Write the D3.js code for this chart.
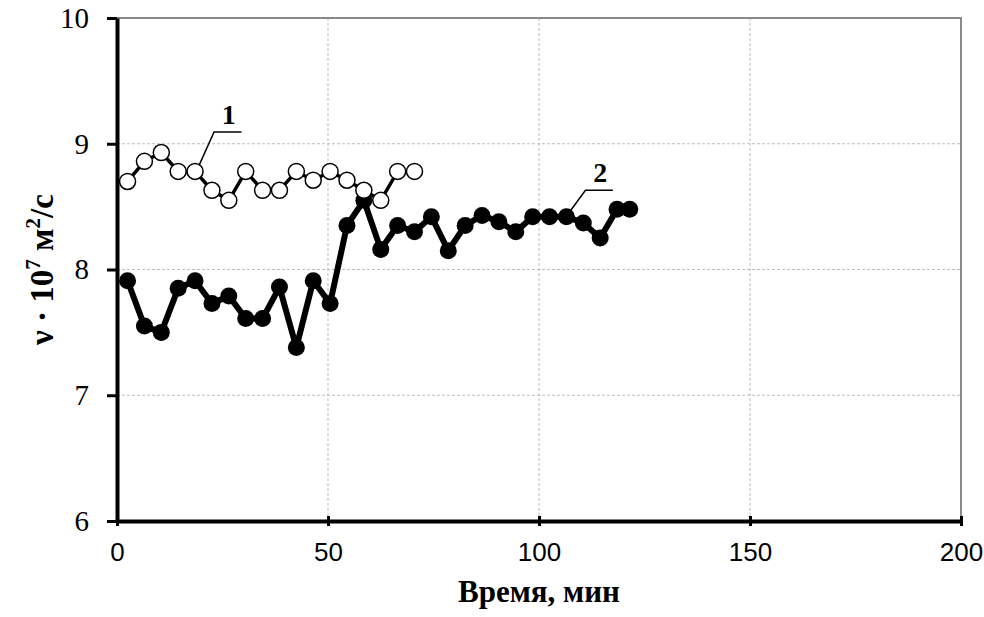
<!DOCTYPE html>
<html>
<head>
<meta charset="utf-8">
<script src="https://cdn.jsdelivr.net/npm/d3@7"></script>
<style>
  html, body { margin: 0; padding: 0; background: #fff; }
  svg { display: block; }
</style>
</head>
<body>
<svg id="chart" width="984" height="617"></svg>
<script>
// time, min — readings every 4 min starting at 2.5
const series1Time = [2.5, 6.5, 10.5, 14.5, 18.5, 22.5, 26.5, 30.5, 34.5, 38.5, 42.5, 46.5, 50.5, 54.5, 58.5, 62.5, 66.5, 70.5];
const series1Nu = [8.70, 8.86, 8.93, 8.78, 8.78, 8.63, 8.55, 8.78, 8.63, 8.63, 8.78, 8.71, 8.78, 8.71, 8.63, 8.55, 8.78, 8.78];

const series2Time = [2.5, 6.5, 10.5, 14.5, 18.5, 22.5, 26.5, 30.5, 34.5, 38.5, 42.5, 46.5, 50.5, 54.5, 58.5, 62.5,
  66.5, 70.5, 74.5, 78.5, 82.5, 86.5, 90.5, 94.5, 98.5, 102.5, 106.5, 110.5, 114.5, 118.5, 121.5];
const series2Nu = [7.91, 7.55, 7.50, 7.85, 7.91, 7.73, 7.79, 7.61, 7.61, 7.86, 7.38, 7.91, 7.73, 8.35, 8.55, 8.16,
  8.35, 8.30, 8.42, 8.15, 8.35, 8.43, 8.38, 8.30, 8.42, 8.42, 8.42, 8.37, 8.25, 8.48, 8.48];

const xTicks = [0, 50, 100, 150, 200];
const yTicks = [6, 7, 8, 9, 10];

const plot = { left: 117, right: 961, top: 18, bottom: 521 };

const svg = d3.select("#chart");
const x = d3.scaleLinear().domain([0, 200]).range([plot.left, plot.right]);
const y = d3.scaleLinear().domain([6, 10]).range([plot.bottom, plot.top]);

// grid
const grid = svg.append("g").attr("class", "grid");
grid.selectAll(".gx")
  .data(xTicks.filter((d) => d > 0 && d < 200))
  .join("line")
  .attr("x1", (d) => x(d)).attr("x2", (d) => x(d))
  .attr("y1", plot.top).attr("y2", plot.bottom)
  .attr("stroke", "#bdbdbd").attr("stroke-width", 1).attr("stroke-dasharray", "3,2");
grid.selectAll(".gy")
  .data(yTicks.filter((d) => d > 6 && d < 10))
  .join("line")
  .attr("x1", plot.left).attr("x2", plot.right)
  .attr("y1", (d) => y(d)).attr("y2", (d) => y(d))
  .attr("stroke", "#bdbdbd").attr("stroke-width", 1).attr("stroke-dasharray", "3,2");

// plot frame (top / right)
svg.append("path")
  .attr("d", `M${plot.left},${plot.top}H${plot.right}V${plot.bottom}`)
  .attr("fill", "none")
  .attr("stroke", "#8a8a8a")
  .attr("stroke-width", 2);

// axes
const xAxis = svg.append("g")
  .attr("transform", `translate(0,${plot.bottom})`)
  .call(d3.axisBottom(x).tickValues(xTicks).tickFormat(d3.format("d"))
    .tickSize(5).tickPadding(17).tickSizeOuter(0));
xAxis.select(".domain").attr("stroke", "#000").attr("stroke-width", 4);
xAxis.selectAll(".tick line").attr("y1", -5).attr("stroke", "#000").attr("stroke-width", 3);
xAxis.selectAll("text")
  .attr("font-family", "'Liberation Sans Narrow', 'Arial Narrow', 'Liberation Sans', Arial, sans-serif")
  .attr("font-size", 26)
  .attr("fill", "#000");

const yAxis = svg.append("g")
  .attr("transform", `translate(${plot.left},0)`)
  .call(d3.axisLeft(y).tickValues(yTicks).tickFormat(d3.format("d"))
    .tickSize(10).tickPadding(18).tickSizeOuter(0));
yAxis.select(".domain").attr("stroke", "#000").attr("stroke-width", 4);
yAxis.selectAll(".tick line").attr("stroke", "#000").attr("stroke-width", 3);
yAxis.attr("font-family", "'Liberation Serif', 'Times New Roman', serif");
yAxis.selectAll("text")
  .attr("font-family", "'Liberation Serif', 'Times New Roman', serif")
  .attr("font-size", 29)
  .attr("fill", "#000");

// series 2 (filled)
const line = d3.line().x((d) => x(d[0])).y((d) => y(d[1]));
const pts2 = series2Time.map((t, i) => [t, series2Nu[i]]);
const pts1 = series1Time.map((t, i) => [t, series1Nu[i]]);

svg.append("path")
  .datum(pts2)
  .attr("d", line)
  .attr("fill", "none")
  .attr("stroke", "#000")
  .attr("stroke-width", 6)
  .attr("stroke-linejoin", "round");
svg.append("g").selectAll("circle")
  .data(pts2)
  .join("circle")
  .attr("cx", (d) => x(d[0]))
  .attr("cy", (d) => y(d[1]))
  .attr("r", 8.5)
  .attr("fill", "#000");

// series 1 (open)
svg.append("path")
  .datum(pts1)
  .attr("d", line)
  .attr("fill", "none")
  .attr("stroke", "#000")
  .attr("stroke-width", 3.5);
svg.append("g").selectAll("circle")
  .data(pts1)
  .join("circle")
  .attr("cx", (d) => x(d[0]))
  .attr("cy", (d) => y(d[1]))
  .attr("r", 8)
  .attr("fill", "#fff")
  .attr("stroke", "#000")
  .attr("stroke-width", 1.5);

// series labels with leader lines
const labels = [
  { text: "1", at: [18.5, 8.78], elbow: [23, 9.093], end: [29.5, 9.093] },
  { text: "2", at: [106.5, 8.42], elbow: [111, 8.63], end: [117.5, 8.63] },
];
labels.forEach((l) => {
  svg.append("polyline")
    .attr("points", [
      [x(l.at[0]) + 4, y(l.at[1]) - 6],
      [x(l.elbow[0]), y(l.elbow[1])],
      [x(l.end[0]), y(l.end[1])],
    ].map((p) => p.join(",")).join(" "))
    .attr("fill", "none")
    .attr("stroke", "#000")
    .attr("stroke-width", 1.5);
  svg.append("text")
    .attr("x", (x(l.elbow[0]) + x(l.end[0])) / 2 + 1)
    .attr("y", y(l.elbow[1]) - 8)
    .attr("text-anchor", "middle")
    .style("font-family", "'Liberation Serif', 'Times New Roman', serif")
    .style("font-weight", "bold")
    .style("font-size", "28px")
    .text(l.text);
});

// axis titles
svg.append("text")
  .attr("x", (plot.left + plot.right) / 2)
  .attr("y", 602)
  .attr("text-anchor", "middle")
  .style("font-family", "'Liberation Serif', 'Times New Roman', serif")
  .style("font-weight", "bold")
  .style("font-size", "31px")
  .text("Время, мин");

const yTitle = svg.append("text")
  .attr("transform", `translate(53,${(plot.top + plot.bottom) / 2}) rotate(-90)`)
  .attr("text-anchor", "middle")
  .style("font-family", "'Liberation Serif', 'Times New Roman', serif")
  .style("font-weight", "bold")
  .style("font-size", "33px");
yTitle.append("tspan").text("ν · 10");
yTitle.append("tspan").attr("dy", -13).style("font-size", "21px").text("7");
yTitle.append("tspan").attr("dy", 13).text(" м");
yTitle.append("tspan").attr("dy", -13).style("font-size", "21px").text("2");
yTitle.append("tspan").attr("dy", 13).text("/с");
</script>
</body>
</html>
